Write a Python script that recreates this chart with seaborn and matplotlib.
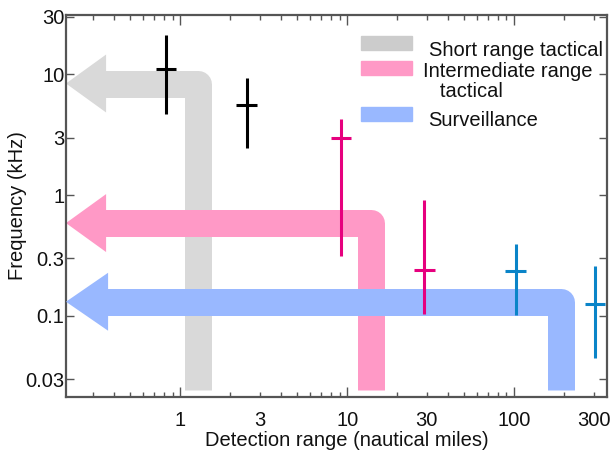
import numpy as np
import pandas as pd
import matplotlib
matplotlib.use("Agg")
import matplotlib.pyplot as plt
import matplotlib.ticker as mticker
from matplotlib.patches import Rectangle
import seaborn as sns

# ---- data ----
groups = ["Short range tactical", "Intermediate range\n   tactical", "Surveillance"]
band_colors = ["#d9d9d9", "#ff99c6", "#99b8ff"]
legend_colors = ["#cccccc", "#ff99c6", "#99b8ff"]
point_colors = ["#000000", "#e6007e", "#0a84c8"]

# detection bands (arrows): frequency of horizontal shaft, range of vertical shaft
band_freq = [8.4, 0.587, 0.131]
band_range = [1.27, 13.8, 191.0]
band_bottom = 0.0244
head_tip = 0.207
head_base = [0.36, 0.36, 0.37]

# systems (crosses)
pt_group = [0, 0, 1, 1, 2, 2]
pt_range = [0.82, 2.5, 9.2, 29.0, 102.0, 305.0]
pt_freq = [11.1, 5.6, 3.0, 0.24, 0.237, 0.126]
pt_lo = [4.7, 2.47, 0.315, 0.104, 0.1026, 0.045]
pt_hi = [21.2, 9.36, 4.23, 0.915, 0.396, 0.257]

x_ticks = [1, 3, 10, 30, 100, 300]
y_ticks = [0.03, 0.1, 0.3, 1, 3, 10, 30]
y_labels = ["0.03", "0.1", "0.3", "1", "3", "10", "30"]

sns.set_theme(style="ticks")
plt.rcParams["font.family"] = ["Liberation Sans", "DejaVu Sans"]
fs = 14.5

fig = plt.figure(figsize=(6.16, 4.51), dpi=100)
ax = fig.add_axes([0.1071, 0.1197, 0.8783, 0.847])
ax.set_xscale("log")
ax.set_yscale("log")
ax.set_xlim(0.207, 360)
ax.set_ylim(0.0213, 31)

# arrows
shaft_lw = 27 * 0.72
head_half = 0.24  # decades
for i in range(3):
    c = band_colors[i]
    ax.plot([head_base[i] * 0.98, band_range[i], band_range[i]],
            [band_freq[i], band_freq[i], band_bottom],
            color=c, lw=shaft_lw, solid_joinstyle="round", solid_capstyle="butt",
            zorder=1 + i)
    yb = band_freq[i]
    ax.fill([head_tip, head_base[i], head_base[i]],
            [yb, yb * 10 ** head_half, yb * 10 ** (-head_half)],
            color=c, lw=0, zorder=1 + i)

# crosses
df = pd.DataFrame({"range": pt_range, "freq": pt_freq,
                   "group": [groups[g] for g in pt_group]})
pal = {groups[i]: point_colors[i] for i in range(3)}
ax.vlines(pt_range, pt_lo, pt_hi, colors=[point_colors[g] for g in pt_group],
          lw=2.2, zorder=10)
sns.scatterplot(data=df, x="range", y="freq", hue="group", palette=pal,
                marker="_", s=215, linewidth=2.2, legend=False, ax=ax, zorder=11)

# ticks
ax.xaxis.set_major_locator(mticker.FixedLocator([1, 10, 100]))
ax.xaxis.set_major_formatter(mticker.FixedFormatter(["1", "10", "100"]))
ax.xaxis.set_minor_locator(mticker.LogLocator(base=10, subs=np.arange(2, 10)))
ax.xaxis.set_minor_formatter(mticker.FuncFormatter(
    lambda v, p: ("%g" % v) if any(abs(v - t) / t < 1e-6 for t in [3, 30, 300]) else ""))
ax.yaxis.set_major_locator(mticker.FixedLocator(y_ticks))
ax.yaxis.set_major_formatter(mticker.FixedFormatter(y_labels))
ax.yaxis.set_minor_locator(mticker.NullLocator())

ax.tick_params(axis="x", which="major", direction="in", length=7, width=1,
               color="#555555", top=True, bottom=True, labelsize=fs, pad=10,
               labelcolor="#111111")
ax.tick_params(axis="x", which="minor", direction="in", length=3.5, width=1,
               color="#555555", top=True, bottom=True, labelsize=fs, pad=10,
               labelcolor="#111111")
ax.tick_params(axis="y", which="major", direction="in", length=6, width=1,
               color="#555555", left=True, right=True, labelsize=fs, pad=1,
               labelcolor="#111111")
for s in ax.spines.values():
    s.set_visible(True)
    s.set_color("#555555")
    s.set_linewidth(1.6)

ax.set_xlabel("")
ax.set_ylabel("")
fig.text(347 / 616, 1 - 440 / 451, "Detection range (nautical miles)",
         fontsize=fs, color="#111111", ha="center", va="center")
fig.text(18 / 616, 1 - 206 / 451, "Frequency (kHz)", rotation=90,
         fontsize=fs, color="#111111", ha="center", va="center")

# legend (manual)
rect_y = [0.927, 0.861, 0.741]
text_y = [0.908, 0.825, 0.725]
text_x = [0.671, 0.660, 0.669]
for i in range(3):
    ax.add_patch(Rectangle((0.545, rect_y[i] - 0.0185), 0.094, 0.037,
                           transform=ax.transAxes, color=legend_colors[i],
                           zorder=20, clip_on=False))
    ax.text(text_x[i], text_y[i], groups[i], transform=ax.transAxes,
            fontsize=fs, va="center", ha="left", color="#111111", zorder=21,
            linespacing=1.05)

fig.savefig("out.png", dpi=100)
